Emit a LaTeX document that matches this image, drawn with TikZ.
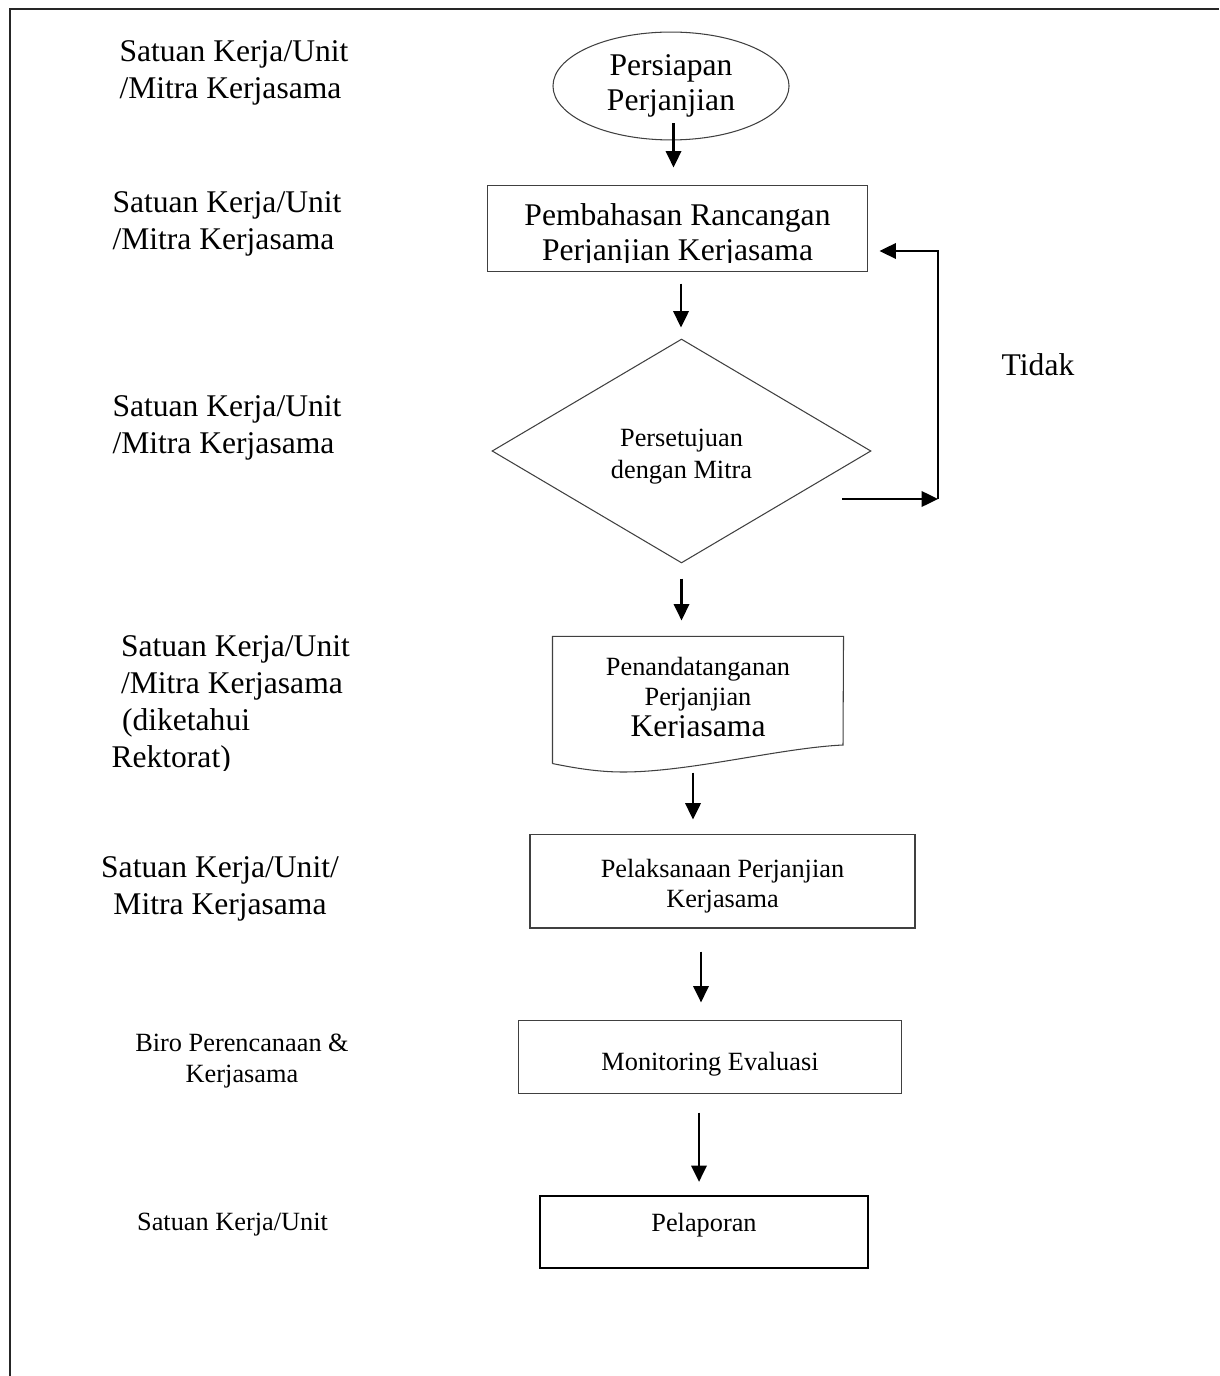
\documentclass[tikz,border=0pt]{standalone}
\usepackage{fontspec}
\setmainfont{Liberation Serif}
\usetikzlibrary{arrows.meta,shapes.geometric,positioning}

\begin{document}
\begin{tikzpicture}[x=0.38pt,y=-0.38pt,>={Triangle[length=6.2pt,width=5.8pt]},
  lbl/.style={inner sep=0pt,font=\fontsize{12}{14}\selectfont},
  lblsmall/.style={inner sep=0pt,align=center,font=\fontsize{10}{11.8}\selectfont},
  box/.style={draw=black!75,line width=0.4pt,inner sep=0pt,align=center,font=\fontsize{10}{11.5}\selectfont},
  flow/.style={->,line width=1pt}]
\useasboundingbox (0,0) rectangle (1219,1376);
% frame
\draw[line width=0.8pt,black!85] (10,1376) -- (10,9) -- (1219,9);

% left column
\node[lbl,align=left,anchor=west] (lane1) at (119,73) {Satuan Kerja/Unit\\/Mitra Kerjasama};
\node[lbl,align=left,anchor=west] (lane2) at (112,224) {Satuan Kerja/Unit\\/Mitra Kerjasama};
\node[lbl,align=left,anchor=west] (lane3) at (112,428) {Satuan Kerja/Unit\\/Mitra Kerjasama};
\begin{scope}
\clip (0,600) rectangle (480,770);
\node[lbl,align=left,anchor=west] (lane4) at (111,705) {\hspace*{3.6pt}Satuan Kerja/Unit\\\hspace*{3.6pt}/Mitra Kerjasama\\\hspace*{4pt}(diketahui\\Rektorat)};
\end{scope}
\node[lbl,align=center] (lane5) at (220,889) {Satuan Kerja/Unit/\\Mitra Kerjasama};
\node[lblsmall] (lane6) at (242,1061.5) {Biro Perencanaan \&\\Kerjasama};
\node[lblsmall] (lane7) at (232.5,1225) {Satuan Kerja/Unit};

% flow
\node[ellipse,draw=black!75,line width=0.4pt,inner sep=0pt,minimum width=89.7pt,minimum height=41pt,
  align=center,font=\fontsize{12}{13.3}\selectfont] (persiapan) at (671,86) {Persiapan\\Perjanjian};
\begin{scope}
\clip (480,180) rectangle (880,263);
\node[box,draw=none,minimum width=144pt,minimum height=32.3pt,font=\fontsize{12}{13.2}\selectfont]
  (pembahasan) at (677.5,228.5) {\rule{0pt}{13.5pt}Pembahasan Rancangan\\Perjanjian Kerjasama};
\end{scope}
\draw[black!75,line width=0.4pt] (pembahasan.north west) rectangle (pembahasan.south east);
\node[diamond,draw=black!75,line width=0.4pt,inner sep=0pt,minimum width=144pt,minimum height=85.1pt,
  align=center,font=\fontsize{10}{12.2}\selectfont] (persetujuan) at (681.5,451) {\rule{0pt}{10.6pt}Persetujuan\\dengan Mitra};
\begin{scope}
\clip (540,630) rectangle (860,737);
\node[box,draw=none,minimum width=110.2pt,minimum height=47.9pt] (penandatanganan) at (698,700)
  {Penandatanganan\\Perjanjian\\{\fontsize{12}{11}\selectfont Kerjasama}};
\end{scope}
\draw[black!75,line width=0.4pt] (penandatanganan.south west) -- (penandatanganan.north west)
  -- (penandatanganan.north east) -- (843,745) .. controls (780,748) and (690,772) .. (623,772)
  .. controls (595,772) and (570,767) .. (penandatanganan.south west);
\node[box,minimum width=146.3pt,minimum height=35.7pt] (pelaksanaan) at (722.5,881) {\rule{0pt}{10.6pt}Pelaksanaan Perjanjian\\Kerjasama};
\node[box,minimum width=145.2pt,minimum height=27.4pt,text height=12.4pt,text depth=2.2pt] (monitoring) at (710,1057) {Monitoring Evaluasi};
\node[box,draw=black,line width=0.8pt,minimum width=124.6pt,minimum height=27.4pt,text height=7pt,text depth=7.4pt] (pelaporan) at (704,1232) {Pelaporan};

% arrows
\draw[flow,shorten <=-6.46pt,shorten >=6.84pt] ([xshift=0.95pt]persiapan.south) -- ([xshift=0.95pt]persiapan.south |- pembahasan.north);
\draw[flow,shorten <=4.56pt,shorten >=4.18pt] ([xshift=1.33pt]pembahasan.south) -- ([xshift=1.33pt]pembahasan.south |- persetujuan.north);
\draw[flow,shorten <=5.7pt,shorten >=6.08pt] (persetujuan.south) -- (persetujuan.south |- penandatanganan.north);
\draw[flow,shorten <=3.42pt,shorten >=5.32pt] ([xshift=-1.9pt]penandatanganan.south) -- ([xshift=-1.9pt]penandatanganan.south |- pelaksanaan.north);
\draw[flow,shorten <=8.74pt,shorten >=6.84pt] ([xshift=-8.17pt]pelaksanaan.south) -- ([xshift=-8.17pt]pelaksanaan.south |- monitoring.north);
\draw[flow,shorten <=7.22pt,shorten >=4.94pt] ([xshift=-4.18pt]monitoring.south) -- ([xshift=-4.18pt]monitoring.south |- pelaporan.north);

% tidak loop
\coordinate (tidakA) at (842,499);
\coordinate (tidakB) at (938,499);
\draw[flow] (tidakA) -- (tidakB);
\draw[flow,shorten >=4.56pt] (tidakB) |- ([yshift=-8.55pt]pembahasan.east);
\node[lbl] (tidak) at (1038,365) {Tidak};
\end{tikzpicture}
\end{document}
